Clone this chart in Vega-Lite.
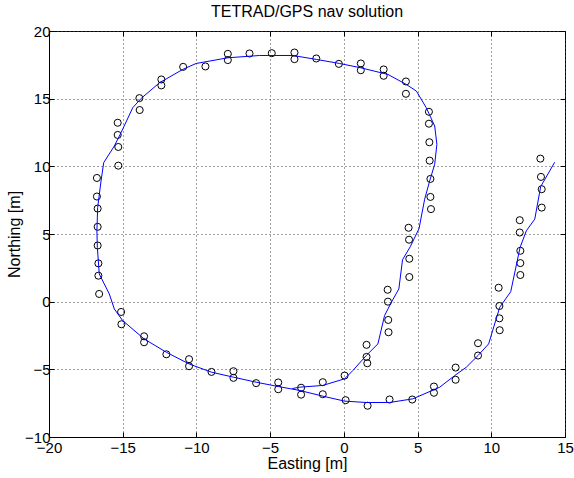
{
  "$schema": "https://vega.github.io/schema/vega-lite/v6.json",
  "width": 516,
  "height": 406,
  "autosize": {"type": "none"},
  "padding": {"left": 49, "top": 31, "right": 9, "bottom": 41},
  "background": "white",
  "title": {"text": "TETRAD/GPS nav solution", "font": "Liberation Sans", "fontSize": 16, "fontWeight": "normal", "color": "black", "baseline": "bottom", "frame": "group", "offset": 9, "dy": 21, "anchor": "middle"},
  "config": {
    "view": {"stroke": "black", "strokeWidth": 1},
    "axis": {
      "labelFont": "Liberation Sans", "labelFontSize": 15, "labelColor": "black",
      "titleFont": "Liberation Sans", "titleFontSize": 16, "titleFontWeight": "normal", "titleColor": "black",
      "domainColor": "black", "domainWidth": 1, "tickColor": "black", "tickWidth": 1,
      "gridColor": "#404040", "gridDash": [1, 3], "gridOpacity": 1, "gridWidth": 1,
      "labelFlush": false, "labelOverlap": false
    }
  },
  "datasets": {
    "track": [
      {"i": 1, "e": 14.3, "n": 10.3},
      {"i": 2, "e": 13.35, "n": 8.5},
      {"i": 3, "e": 12.95, "n": 6.1},
      {"i": 4, "e": 12.38, "n": 5.24},
      {"i": 5, "e": 11.95, "n": 4.0},
      {"i": 6, "e": 11.32, "n": 0.74},
      {"i": 7, "e": 10.57, "n": -0.42},
      {"i": 8, "e": 9.82, "n": -3.12},
      {"i": 9, "e": 9.1, "n": -3.98},
      {"i": 10, "e": 8.31, "n": -4.84},
      {"i": 11, "e": 7.52, "n": -5.46},
      {"i": 12, "e": 6.5, "n": -6.32},
      {"i": 13, "e": 4.68, "n": -7.18},
      {"i": 14, "e": 3.1, "n": -7.45},
      {"i": 15, "e": 1.52, "n": -7.45},
      {"i": 16, "e": 0.05, "n": -7.35},
      {"i": 17, "e": -1.43, "n": -6.98},
      {"i": 18, "e": -3.0, "n": -6.56},
      {"i": 19, "e": -4.45, "n": -6.27},
      {"i": 20, "e": -5.95, "n": -5.95},
      {"i": 21, "e": -7.49, "n": -5.58},
      {"i": 22, "e": -8.98, "n": -5.21},
      {"i": 23, "e": -10.5, "n": -4.6},
      {"i": 24, "e": -12.04, "n": -3.74},
      {"i": 25, "e": -13.55, "n": -2.75},
      {"i": 26, "e": -15.0, "n": -1.4},
      {"i": 27, "e": -15.57, "n": -0.54},
      {"i": 28, "e": -15.91, "n": 0.57},
      {"i": 29, "e": -16.59, "n": 2.04},
      {"i": 30, "e": -16.72, "n": 4.0},
      {"i": 31, "e": -16.75, "n": 5.24},
      {"i": 32, "e": -16.7, "n": 6.95},
      {"i": 33, "e": -16.47, "n": 8.92},
      {"i": 34, "e": -16.29, "n": 10.27},
      {"i": 35, "e": -15.57, "n": 11.5},
      {"i": 36, "e": -15.11, "n": 12.49},
      {"i": 37, "e": -14.32, "n": 14.33},
      {"i": 38, "e": -13.75, "n": 15.02},
      {"i": 39, "e": -12.51, "n": 16.17},
      {"i": 40, "e": -10.93, "n": 17.16},
      {"i": 41, "e": -10.02, "n": 17.6},
      {"i": 42, "e": -7.87, "n": 18.02},
      {"i": 43, "e": -5.72, "n": 18.19},
      {"i": 44, "e": -3.46, "n": 18.19},
      {"i": 45, "e": -1.87, "n": 17.9},
      {"i": 46, "e": -0.29, "n": 17.6},
      {"i": 47, "e": 1.15, "n": 17.28},
      {"i": 48, "e": 2.99, "n": 16.79},
      {"i": 49, "e": 4.24, "n": 16.05},
      {"i": 50, "e": 4.92, "n": 15.56},
      {"i": 51, "e": 5.59, "n": 14.33},
      {"i": 52, "e": 6.16, "n": 12.98},
      {"i": 53, "e": 6.31, "n": 11.63},
      {"i": 54, "e": 6.16, "n": 10.15},
      {"i": 55, "e": 5.82, "n": 8.92},
      {"i": 56, "e": 5.48, "n": 7.57},
      {"i": 57, "e": 5.1, "n": 5.4},
      {"i": 58, "e": 4.5, "n": 4.05},
      {"i": 59, "e": 3.98, "n": 3.1},
      {"i": 60, "e": 3.73, "n": 0.94},
      {"i": 61, "e": 3.22, "n": -0.05},
      {"i": 62, "e": 2.76, "n": -1.03},
      {"i": 63, "e": 2.31, "n": -3.12},
      {"i": 64, "e": 1.52, "n": -3.98},
      {"i": 65, "e": 0.61, "n": -5.09},
      {"i": 66, "e": 0.05, "n": -5.7},
      {"i": 67, "e": -1.43, "n": -6.19},
      {"i": 68, "e": -3.0, "n": -6.32},
      {"i": 69, "e": -3.5, "n": -6.42}
    ],
    "fixes": [
      {"e": -16.75, "n": 9.14}, {"e": -16.75, "n": 7.77}, {"e": -16.7, "n": 6.88}, {"e": -16.7, "n": 5.53},
      {"e": -16.7, "n": 4.15}, {"e": -16.65, "n": 2.83}, {"e": -16.65, "n": 1.92}, {"e": -16.6, "n": 0.57},
      {"e": -15.34, "n": 13.22}, {"e": -15.34, "n": 12.32}, {"e": -15.3, "n": 11.43}, {"e": -15.3, "n": 10.05},
      {"e": -13.87, "n": 15.04}, {"e": -13.85, "n": 14.16}, {"e": -12.38, "n": 16.42}, {"e": -12.38, "n": 15.98},
      {"e": -10.9, "n": 17.35}, {"e": -9.39, "n": 17.38}, {"e": -7.87, "n": 18.31}, {"e": -7.87, "n": 17.85},
      {"e": -6.4, "n": 18.34}, {"e": -4.89, "n": 18.36}, {"e": -3.35, "n": 18.41}, {"e": -3.35, "n": 17.92},
      {"e": -1.87, "n": 17.97}, {"e": -0.34, "n": 17.57}, {"e": 1.15, "n": 17.6}, {"e": 1.15, "n": 17.1},
      {"e": 2.7, "n": 17.16}, {"e": 2.7, "n": 16.69}, {"e": 4.21, "n": 16.27}, {"e": 4.21, "n": 15.36},
      {"e": 5.77, "n": 14.03}, {"e": 5.77, "n": 13.15}, {"e": 5.8, "n": 11.78}, {"e": 5.82, "n": 10.42},
      {"e": 5.87, "n": 9.07}, {"e": 5.87, "n": 7.74}, {"e": 5.91, "n": 6.84}, {"e": 4.39, "n": 5.46},
      {"e": 4.42, "n": 4.58}, {"e": 4.44, "n": 3.17}, {"e": 4.44, "n": 1.82}, {"e": 2.97, "n": 0.88},
      {"e": 2.99, "n": 0.0}, {"e": 3.01, "n": -1.35}, {"e": 3.03, "n": -2.26}, {"e": 1.54, "n": -3.19},
      {"e": 1.54, "n": -4.08}, {"e": 1.59, "n": -4.55}, {"e": 0.05, "n": -5.46}, {"e": -1.43, "n": -5.95},
      {"e": -1.43, "n": -6.84}, {"e": -2.9, "n": -6.36}, {"e": -2.9, "n": -6.87}, {"e": 0.12, "n": -7.28},
      {"e": 1.61, "n": -7.69}, {"e": 3.1, "n": -7.23}, {"e": 4.64, "n": -7.23}, {"e": 6.11, "n": -6.27},
      {"e": 6.11, "n": -6.73}, {"e": 7.58, "n": -4.87}, {"e": 7.58, "n": -5.77}, {"e": 9.1, "n": -3.07},
      {"e": 9.1, "n": -3.98}, {"e": 10.5, "n": 1.03}, {"e": 10.55, "n": -0.32}, {"e": 10.55, "n": -1.23},
      {"e": 10.57, "n": -2.11}, {"e": 11.93, "n": 6.02}, {"e": 11.93, "n": 5.11}, {"e": 11.97, "n": 3.76},
      {"e": 11.97, "n": 2.85}, {"e": 11.97, "n": 1.97}, {"e": 13.33, "n": 10.57}, {"e": 13.37, "n": 9.22},
      {"e": 13.42, "n": 8.31}, {"e": 13.42, "n": 6.95},
      {"e": -15.11, "n": -0.76}, {"e": -15.09, "n": -1.67}, {"e": -13.55, "n": -2.56}, {"e": -13.55, "n": -3.0},
      {"e": -12.04, "n": -3.89}, {"e": -10.5, "n": -4.25}, {"e": -10.5, "n": -4.77}, {"e": -8.98, "n": -5.19},
      {"e": -7.49, "n": -5.14}, {"e": -7.49, "n": -5.63}, {"e": -5.95, "n": -6.02}, {"e": -4.45, "n": -5.97},
      {"e": -4.45, "n": -6.47}
    ]
  },
  "layer": [
    {
      "data": {"name": "fixes"},
      "mark": {"type": "point", "shape": "circle", "filled": false, "color": "black", "size": 50, "strokeWidth": 1, "opacity": 1},
      "encoding": {
        "x": {"field": "e", "type": "quantitative", "scale": {"domain": [-20, 15], "nice": false, "zero": false},
          "axis": {"orient": "top", "values": [-20, -15, -10, -5, 0, 5, 10, 15], "labels": false, "grid": false, "domain": false, "tickSize": -5, "title": null}},
        "y": {"field": "n", "type": "quantitative", "scale": {"domain": [-10, 20], "nice": false, "zero": false},
          "axis": {"orient": "right", "values": [-10, -5, 0, 5, 10, 15, 20], "labels": false, "grid": false, "domain": false, "tickSize": -5, "title": null}}
      }
    },
    {
      "data": {"name": "track"},
      "mark": {"type": "line", "color": "#0000ff", "strokeWidth": 1},
      "encoding": {
        "x": {"field": "e", "type": "quantitative", "scale": {"domain": [-20, 15], "nice": false, "zero": false},
          "axis": {"orient": "bottom", "values": [-20, -15, -10, -5, 0, 5, 10, 15], "format": "d", "grid": true, "tickSize": -5, "labelPadding": 8, "title": "Easting [m]", "titleX": 258, "titleY": 31, "titleBaseline": "alphabetic", "titleAlign": "center"}},
        "y": {"field": "n", "type": "quantitative", "scale": {"domain": [-10, 20], "nice": false, "zero": false},
          "axis": {"orient": "left", "values": [-10, -5, 0, 5, 10, 15, 20], "format": "d", "grid": true, "tickSize": -5, "labelPadding": 4, "title": "Northing [m]", "titleX": -30, "titleY": 203, "titleBaseline": "alphabetic", "titleAlign": "center", "titleAngle": 270}},
        "order": {"field": "i", "type": "quantitative"}
      }
    }
  ],
  "resolve": {"axis": {"x": "independent", "y": "independent"}}
}
